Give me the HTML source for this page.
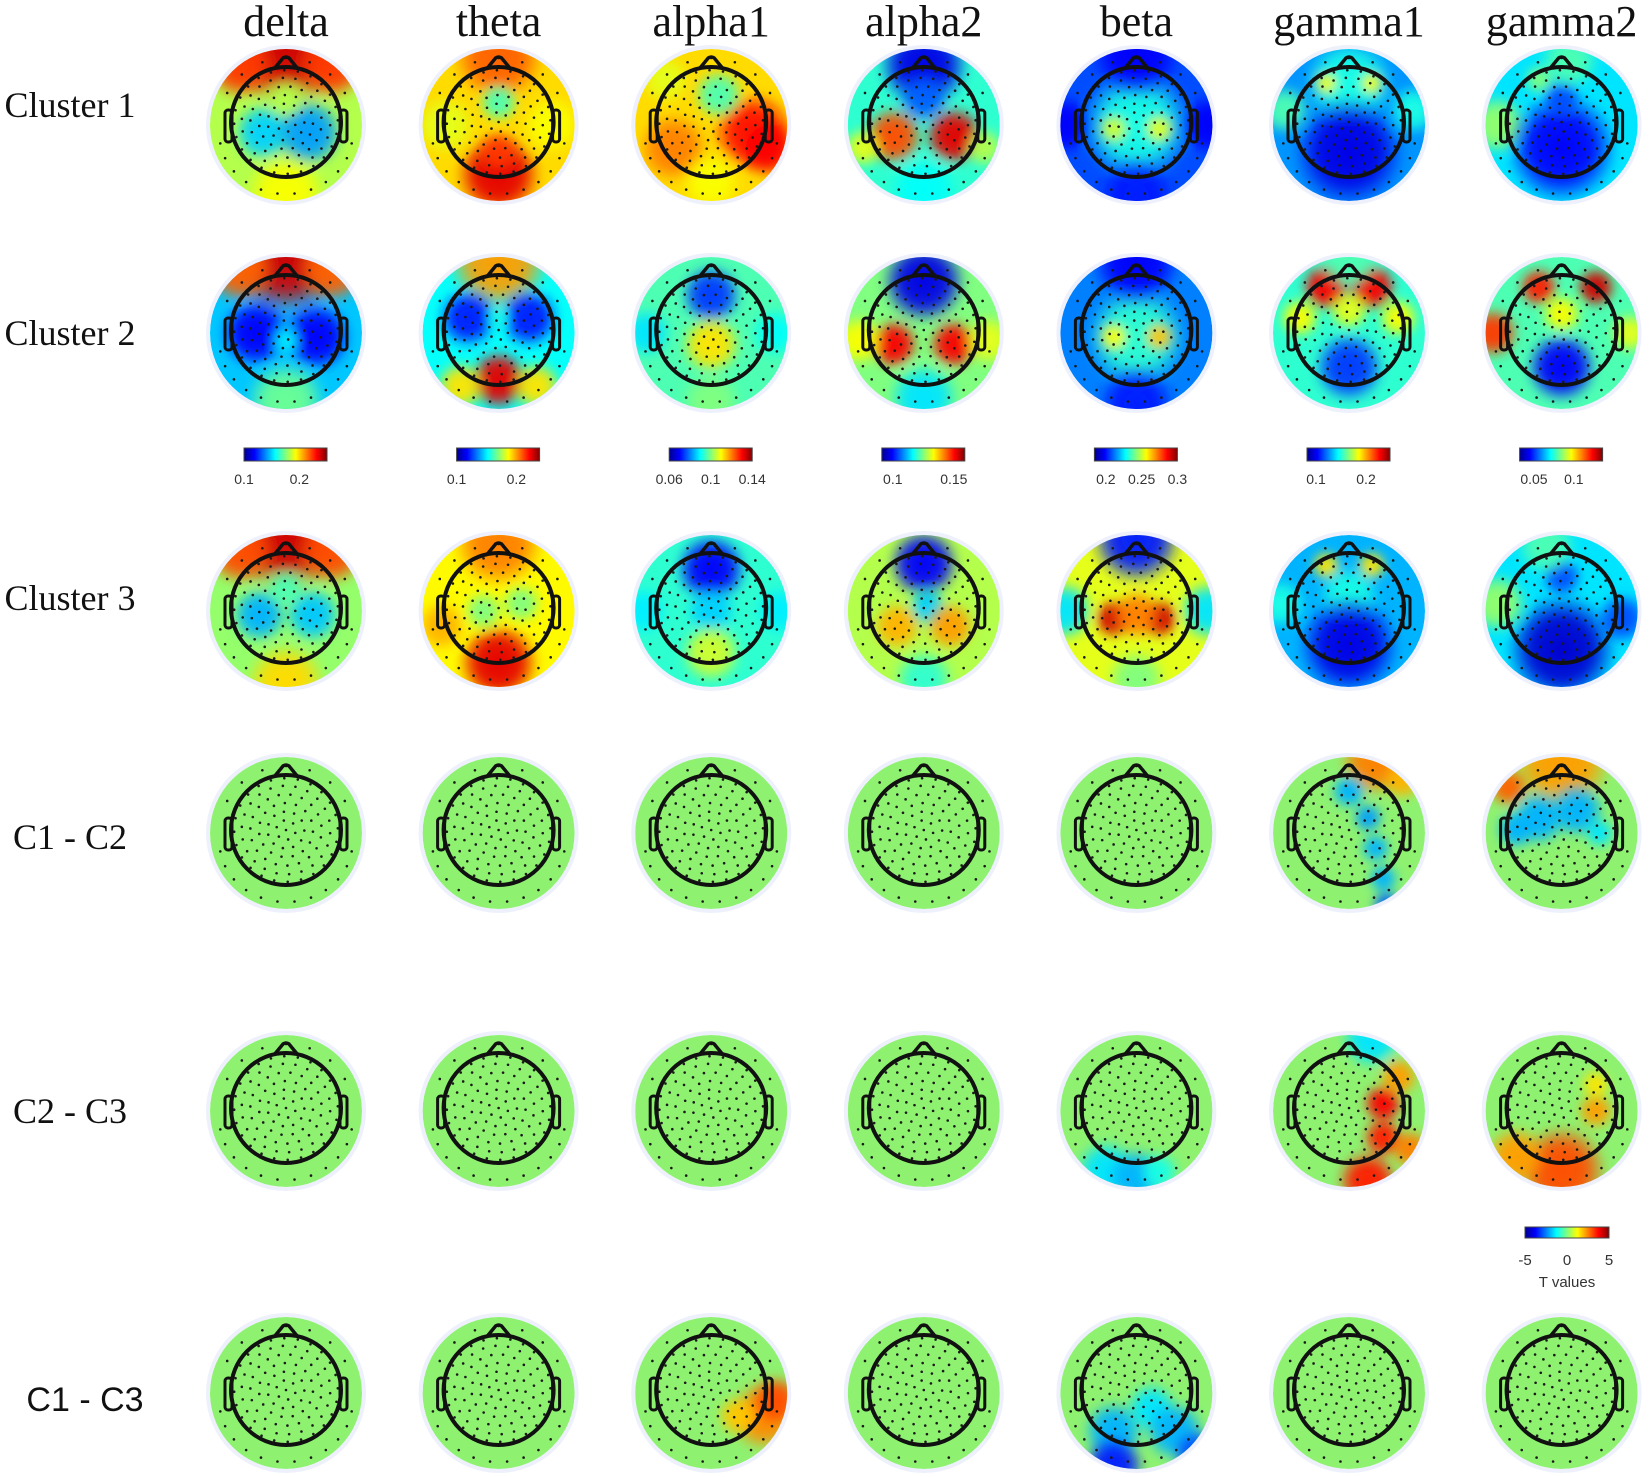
<!DOCTYPE html>
<html><head><meta charset="utf-8"><style>
html,body{margin:0;padding:0;background:#fff;}
svg{display:block;}
</style></head><body>
<svg id="fig" width="1650" height="1477" viewBox="0 0 1650 1477" xmlns="http://www.w3.org/2000/svg">
<defs>
<filter id="soft" x="-50%" y="-50%" width="200%" height="200%"><feGaussianBlur stdDeviation="5"/></filter>
<linearGradient id="jetbar" x1="0" x2="1" y1="0" y2="0">
<stop offset="0" stop-color="#00008f"/><stop offset="0.125" stop-color="#0000ff"/><stop offset="0.375" stop-color="#00ffff"/><stop offset="0.5" stop-color="#80ff80"/><stop offset="0.625" stop-color="#ffff00"/><stop offset="0.875" stop-color="#ff0000"/><stop offset="1" stop-color="#800000"/>
</linearGradient>
</defs>
<g id="layer"></g>
</svg>
<script>
// ---- data ----
const bands = ["delta","theta","alpha1","alpha2","beta","gamma1","gamma2"];
const rowLabels = ["Cluster 1","Cluster 2","Cluster 3","C1 - C2","C2 - C3","C1 - C3"];
const cbMin = [0.1,0.1,0.06,0.091,0.184,0.082,0.032];
const cbMax = [0.25,0.239,0.14,0.159,0.3,0.248,0.136];
const cbTicks = [[0.1,0.2],[0.1,0.2],[0.06,0.1,0.14],[0.1,0.15],[0.2,0.25,0.3],[0.1,0.2],[0.05,0.1]];
const cbTickText = [["0.1","0.2"],["0.1","0.2"],["0.06","0.1","0.14"],["0.1","0.15"],["0.2","0.25","0.3"],["0.1","0.2"],["0.05","0.1"]];
const tTicks = [-5,0,5];
const tMin = -5, tMax = 5;
// base value (jet 0..1) per map, row-major (6 rows x 7 bands)
const baseVals = [
 0.55,0.66,0.66,0.42,0.2,0.27,0.35,
 0.32,0.38,0.45,0.5,0.25,0.42,0.45,
 0.52,0.63,0.42,0.55,0.6,0.3,0.35,
 0.5,0.5,0.5,0.5,0.5,0.5,0.5,
 0.5,0.5,0.5,0.5,0.5,0.5,0.5,
 0.5,0.5,0.5,0.5,0.5,0.5,0.5];
// blobs per map: [x, y, radius, value] in units of disk radius
const blobs = [
 // row 1
 [[0,-1.05,0.6,0.92],[-0.6,-0.8,0.35,0.82],[0.6,-0.8,0.35,0.82],[-0.3,0.1,0.3,0.33],[0.3,0.1,0.35,0.28],[0,-0.35,0.2,0.55],[0,0.9,0.4,0.62]],
 [[0,0.65,0.42,0.9],[0,0.35,0.2,0.82],[0,-0.9,0.45,0.78],[0,-0.3,0.2,0.45],[-0.7,0,0.3,0.6],[0.7,0,0.3,0.62]],
 [[0.55,0.1,0.4,0.86],[0.75,0.3,0.3,0.88],[-0.5,0.3,0.35,0.75],[0.1,-0.4,0.25,0.45],[0,0.75,0.3,0.62],[-0.6,-0.6,0.25,0.6]],
 [[0,-0.8,0.45,0.1],[0,-0.35,0.25,0.22],[-0.4,0.15,0.3,0.8],[0.4,0.15,0.3,0.9],[0,0.85,0.35,0.38],[-0.8,0.3,0.2,0.6],[0.8,0.3,0.2,0.55]],
 [[0,0,0.55,0.4],[-0.3,0.05,0.15,0.58],[0.3,0.05,0.15,0.6],[0,-0.95,0.45,0.12],[0,0.95,0.4,0.15],[-0.95,0,0.3,0.12],[0.95,0,0.3,0.12]],
 [[0,-0.55,0.45,0.4],[-0.3,-0.55,0.12,0.62],[0.3,-0.55,0.12,0.62],[0,0.35,0.55,0.1],[-0.85,-0.2,0.25,0.45],[0.85,-0.2,0.25,0.4]],
 [[-0.85,0,0.3,0.52],[0,0.3,0.55,0.12],[0,-0.35,0.2,0.2],[0.1,-0.85,0.3,0.45],[-0.3,-0.6,0.15,0.5]],
 // row 2
 [[0,-1.05,0.6,0.92],[-0.6,-0.85,0.35,0.78],[0.6,-0.85,0.35,0.78],[-0.4,0,0.35,0.12],[0.4,0.05,0.35,0.12],[0,0.1,0.15,0.36],[0,0.9,0.4,0.48]],
 [[0,0.62,0.3,0.9],[0,-0.95,0.5,0.72],[-0.4,-0.2,0.3,0.15],[0.4,-0.2,0.3,0.15],[-0.5,0.7,0.25,0.65],[0.5,0.7,0.25,0.65],[0,-0.2,0.12,0.4]],
 [[0,-0.5,0.3,0.18],[0,0.15,0.3,0.65],[-0.85,0,0.25,0.35],[0.85,0,0.25,0.38],[0,0.9,0.3,0.5]],
 [[0,-0.68,0.42,0.1],[-0.4,0.15,0.25,0.88],[0.4,0.15,0.25,0.88],[0,0.85,0.35,0.35],[-0.85,0.1,0.25,0.62],[0.85,0.1,0.25,0.6]],
 [[0,0.05,0.5,0.42],[-0.3,0.05,0.15,0.62],[0.3,0.05,0.15,0.68],[0,-0.95,0.45,0.12],[0,0.95,0.4,0.15]],
 [[-0.3,-0.6,0.25,0.88],[0.3,-0.6,0.25,0.88],[0,-0.3,0.2,0.6],[-0.65,-0.2,0.2,0.62],[0.65,-0.2,0.2,0.62],[0,0.45,0.35,0.18],[0,-0.95,0.3,0.45]],
 [[-0.3,-0.6,0.2,0.85],[0.45,-0.6,0.2,0.92],[-0.9,0,0.25,0.82],[0.9,0,0.2,0.6],[0,-0.25,0.2,0.62],[0,0.45,0.35,0.12]],
 // row 3
 [[0,-1.05,0.6,0.92],[-0.6,-0.8,0.35,0.8],[0.6,-0.8,0.35,0.8],[-0.35,0.05,0.28,0.3],[0.35,0.05,0.28,0.32],[0,-0.3,0.2,0.45],[0,0.95,0.4,0.66]],
 [[0,0.68,0.4,0.9],[0,-0.9,0.45,0.75],[-0.2,0,0.2,0.5],[0.3,-0.1,0.2,0.5],[-0.75,0.2,0.25,0.7]],
 [[0,-0.55,0.35,0.12],[0,0,0.25,0.33],[0,0.55,0.3,0.58],[-0.9,0,0.25,0.36],[0.9,0,0.25,0.36]],
 [[0,-0.62,0.35,0.12],[0.05,-0.05,0.2,0.33],[-0.35,0.2,0.25,0.7],[0.35,0.2,0.25,0.72],[0,0.9,0.3,0.42]],
 [[-0.3,0.1,0.2,0.92],[0.3,0.1,0.2,0.92],[0,0.05,0.25,0.75],[0,-0.95,0.45,0.15],[-0.95,0,0.3,0.35],[0.95,0,0.3,0.35],[0,0.9,0.3,0.5]],
 [[-0.3,-0.6,0.15,0.65],[0.3,-0.6,0.15,0.65],[0,-0.2,0.3,0.4],[0,0.45,0.5,0.1],[-0.9,-0.1,0.25,0.4]],
 [[-0.85,-0.1,0.3,0.52],[0,0.5,0.55,0.08],[0.8,0.1,0.25,0.2],[0,-0.45,0.2,0.2],[-0.2,-0.85,0.3,0.45]],
 // row 4 (C1 - C2)
 [],[],[],[],[],
 [[0.35,-0.95,0.35,0.75],[0.7,-0.7,0.2,0.7],[0,-0.55,0.18,0.3],[0.25,-0.2,0.15,0.28],[0.35,0.2,0.15,0.3],[0.45,0.6,0.15,0.3],[0.5,0.95,0.15,0.22]],
 [[0,-0.95,0.5,0.72],[-0.7,-0.6,0.2,0.78],[-0.3,-0.2,0.28,0.3],[0.2,-0.3,0.28,0.3],[-0.6,-0.05,0.2,0.3],[0.5,0,0.15,0.35]],
 // row 5 (C2 - C3)
 [],[],[],[],
 [[-0.4,0.78,0.3,0.35],[0,0.88,0.3,0.3],[0.3,0.8,0.2,0.4]],
 [[0.45,-0.1,0.2,0.88],[0.45,0.35,0.2,0.85],[0.25,0.92,0.3,0.85],[0.65,-0.45,0.2,0.72],[0.3,-0.95,0.3,0.35],[0.8,0.5,0.2,0.75]],
 [[0,0.78,0.45,0.8],[-0.6,0.6,0.3,0.72],[0.45,0,0.18,0.72],[0.45,-0.35,0.15,0.65]],
 // row 6 (C1 - C3)
 [],[],
 [[0.7,0.3,0.35,0.74],[0.35,0.3,0.2,0.68],[0.85,0.1,0.25,0.8]],
 [],
 [[-0.3,0.5,0.3,0.3],[0.2,0.2,0.25,0.35],[0.5,0.5,0.3,0.3],[-0.3,0.95,0.3,0.15],[0.8,0.8,0.25,0.2]],
 [],[]
];
// ---- layout ----
const X0 = 286, DX = 212.6, R = 76;
const rowY = [125,333,611,833,1111,1393];
const rowLabelY = [105,333,598,837,1111,1400];
const rowLabelSerif = [true,true,true,true,true,false];
const NS = "http://www.w3.org/2000/svg";
const layer = document.getElementById('layer');
const defs = document.querySelector('defs');
function colX(i){ return X0 + DX*i; }
function clamp(v){ return Math.max(0,Math.min(1,v)); }
function jet(v){
  const r = clamp(1.5-Math.abs(4*v-3)), g = clamp(1.5-Math.abs(4*v-2)), b = clamp(1.5-Math.abs(4*v-1));
  return `rgb(${Math.round(r*255)},${Math.round(g*255)},${Math.round(b*255)})`;
}
function mk(tag, attrs, parent){
  const e = document.createElementNS(NS, tag);
  for (const k in attrs) e.setAttribute(k, attrs[k]);
  (parent||layer).appendChild(e);
  return e;
}
// column titles
bands.forEach((b,i)=>{
  const t = mk('text',{x:colX(i), y:36, 'text-anchor':'middle', 'font-family':'Liberation Serif, serif', 'font-size':44, fill:'#111'});
  t.textContent = b;
  
  
});
// row labels
rowLabels.forEach((l,j)=>{
  const serif = rowLabelSerif[j];
  const t = mk('text',{x: serif ? 70 : 85, y: rowLabelY[j], 'text-anchor':'middle', 'dominant-baseline':'central',
    'font-family': serif ? 'Liberation Serif, serif' : 'Liberation Sans, sans-serif', 'font-size': serif ? 36 : 34, fill:'#111'});
  t.textContent = l;
  
  
});
// electrode positions (layout only)
const dots = [];
[[0,1],[0.18,6],[0.34,11],[0.5,15],[0.66,19],[0.82,22],[0.96,24]].forEach(([rr,n],k)=>{
  for(let i=0;i<n;i++){ const a = (i/n)*2*Math.PI + k*0.3; dots.push([rr*54*Math.cos(a), rr*54*Math.sin(a)]); }
});
for(let i=0;i<12;i++){ const a = Math.PI*0.05 + i*(Math.PI*0.9/11); dots.push([70*Math.cos(a)*0.95, 12+60*Math.sin(a)]); }
for(let i=0;i<7;i++){ const a = -Math.PI*0.15 - i*(Math.PI*0.7/6); dots.push([66*Math.cos(a), 64*Math.sin(a)]); }
// topomaps
let gid = 0;
rowY.forEach((cy,j)=>{
  bands.forEach((b,i)=>{
    const cx = colX(i), idx = j*7+i;
    const g = mk('g',{});
    
    
    mk('circle',{cx, cy, r:R+4, fill:'#eef1fc'}, g);
    const cid = 'clip'+idx;
    const cp = mk('clipPath',{id:cid}, defs);
    mk('circle',{cx, cy, r:R}, cp);
    const cg = mk('g',{'clip-path':`url(#${cid})`}, g);
    const base = baseVals[idx];
    mk('circle',{cx, cy, r:R, fill: j>=3 ? '#8ef270' : jet(base)}, cg);
    const bg = mk('g',{filter:'url(#soft)'}, cg);
    blobs[idx].forEach(bl=>{
      const [bx,by,br,bv] = bl;
      const gradId = 'rg'+(gid++);
      const rg = mk('radialGradient',{id:gradId}, defs);
      mk('stop',{offset:0,'stop-color':jet(bv),'stop-opacity':1}, rg);
      mk('stop',{offset:0.55,'stop-color':jet(bv),'stop-opacity':0.9}, rg);
      mk('stop',{offset:1,'stop-color':jet(bv),'stop-opacity':0}, rg);
      const c = mk('circle',{cx: cx+bx*R, cy: cy+by*R, r: br*R*1.35, fill:`url(#${gradId})`}, bg);
      
      
    });
    // electrodes
    dots.forEach(([dx,dy])=>{ mk('circle',{cx:cx+dx, cy:cy-3+dy, r:1.3, fill:'#1a1a1a'}, cg); });
    // head outline
    const hy = cy-3;
    mk('path',{d:`M${cx-12},${hy-53} L${cx-3},${hy-64} Q${cx},${hy-66} ${cx+3},${hy-64} L${cx+12},${hy-53}`, fill:'none', stroke:'#111','stroke-width':3.5}, g);
    mk('rect',{x:cx-61, y:hy-12, width:7, height:32, rx:3, fill:'none', stroke:'#111','stroke-width':3}, g);
    mk('rect',{x:cx+54, y:hy-12, width:7, height:32, rx:3, fill:'none', stroke:'#111','stroke-width':3}, g);
    const head = mk('circle',{cx, cy:hy, r:55, fill:'none', stroke:'#111','stroke-width':4}, g);
    
    
  });
});
// colorbars per band
bands.forEach((b,i)=>{
  const x0 = colX(i)-42, w = 83;
  const g = mk('g',{});
  
  
  mk('rect',{x:x0, y:448, width:w, height:13, fill:'url(#jetbar)', stroke:'#444','stroke-width':1}, g);
  const sx = v => x0 + (v-cbMin[i])/(cbMax[i]-cbMin[i])*w;
  cbTicks[i].forEach((v,k)=>{
    const t = mk('text',{x:sx(v), y:484, 'text-anchor':'middle','font-family':'Liberation Sans, sans-serif','font-size':14, fill:'#333'}, g);
    t.textContent = cbTickText[i][k];
    
    
  });
});
// T colorbar
(function(){
  const x0 = 1525, w = 84;
  const g = mk('g',{});
  
  
  mk('rect',{x:x0, y:1227, width:w, height:11, fill:'url(#jetbar)', stroke:'#444','stroke-width':1}, g);
  const sx = v => x0 + (v-tMin)/(tMax-tMin)*w;
  tTicks.forEach(v=>{
    const t = mk('text',{x:sx(v), y:1265, 'text-anchor':'middle','font-family':'Liberation Sans, sans-serif','font-size':15, fill:'#333'}, g);
    t.textContent = String(v);
    
    
  });
  const t = mk('text',{x:1567, y:1287, 'text-anchor':'middle','font-family':'Liberation Sans, sans-serif','font-size':15, fill:'#333'}, g);
  t.textContent = 'T values';
  
  
})();
</script>
</body></html>
